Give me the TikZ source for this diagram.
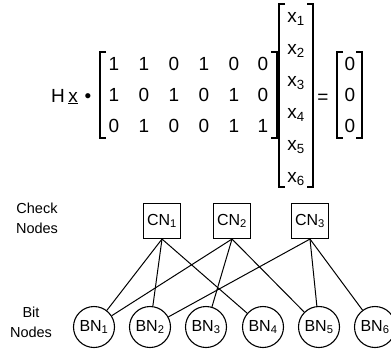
\documentclass[tikz,border=0pt]{standalone}
\usepackage{fontspec}
\setmainfont{Liberation Sans}
\begin{document}
\begin{tikzpicture}[x=1pt,y=-1pt,
  big/.style={font=\fontsize{19}{21}\selectfont, inner sep=0pt, anchor=base},
  lbl/.style={font=\fontsize{14.5}{16}\selectfont, inner sep=0pt, anchor=base},
  brk/.style={line width=1.1pt},
  cnbox/.style={draw, line width=1.1pt, minimum width=37pt, minimum height=35pt, inner sep=0pt, font=\fontsize{16}{18}\selectfont},
  bncirc/.style={draw, circle, line width=1.1pt, minimum size=41pt, inner sep=0pt, font=\fontsize{16}{18}\selectfont},
  edge/.style={line width=1pt}]
\useasboundingbox (0,0) rectangle (391,349);
\clip (0,0) rectangle (391,349);
% left-hand side
\node[big] (H) at (58,102) {H};
\node[big] (xu) at (73,102) {\underline{x}};
\node[big] (dot) at (88,102) {\textbullet};
% matrix H
\node[big] (m11) at (114,70) {1};
\node[big] (m12) at (144,70) {1};
\node[big] (m13) at (174,70) {0};
\node[big] (m14) at (204,70) {1};
\node[big] (m15) at (234,70) {0};
\node[big] (m16) at (263,70) {0};
\node[big] (m21) at (114,101) {1};
\node[big] (m22) at (144,101) {0};
\node[big] (m23) at (174,101) {1};
\node[big] (m24) at (204,101) {0};
\node[big] (m25) at (234,101) {1};
\node[big] (m26) at (263,101) {0};
\node[big] (m31) at (114,132) {0};
\node[big] (m32) at (144,132) {1};
\node[big] (m33) at (174,132) {0};
\node[big] (m34) at (204,132) {0};
\node[big] (m35) at (234,132) {1};
\node[big] (m36) at (263,132) {1};
\draw[brk] (106,52) -- (100,52) -- (100,138) -- (106,138);
\draw[brk] (271,52) -- (277,52) -- (277,138) -- (271,138);
% vector x
\node[big] (x1) at (296,22) {x\textsubscript{1}};
\node[big] (x2) at (296,54) {x\textsubscript{2}};
\node[big] (x3) at (296,86) {x\textsubscript{3}};
\node[big] (x4) at (296,118) {x\textsubscript{4}};
\node[big] (x5) at (296,150) {x\textsubscript{5}};
\node[big] (x6) at (296,182) {x\textsubscript{6}};
\draw[brk] (285,4) -- (279,4) -- (279,187) -- (285,187);
\draw[brk] (307,4) -- (313,4) -- (313,187) -- (307,187);
% equals and zero vector
\node[big] (eq) at (323,103) {=};
\node[big] (z1) at (350,70) {0};
\node[big] (z2) at (350,101) {0};
\node[big] (z3) at (350,132) {0};
\draw[brk] (343,52) -- (337,52) -- (337,138) -- (343,138);
\draw[brk] (356,52) -- (362,52) -- (362,138) -- (356,138);
% labels
\node[lbl] (chk1) at (37,213) {Check};
\node[lbl] (chk2) at (37,233) {Nodes};
\node[lbl] (bit1) at (31,317) {Bit};
\node[lbl] (bit2) at (31,337) {Nodes};
% check nodes
\node[cnbox] (cn1) at (162,221) {CN\textsubscript{1}};
\node[cnbox] (cn2) at (232,221) {CN\textsubscript{2}};
\node[cnbox] (cn3) at (310,221) {CN\textsubscript{3}};
% bit nodes
\node[bncirc] (bn1) at (94,327) {BN\textsubscript{1}};
\node[bncirc] (bn2) at (150,327) {BN\textsubscript{2}};
\node[bncirc] (bn3) at (206,327) {BN\textsubscript{3}};
\node[bncirc] (bn4) at (263,327) {BN\textsubscript{4}};
\node[bncirc] (bn5) at (319,327) {BN\textsubscript{5}};
\node[bncirc] (bn6) at (375,327) {BN\textsubscript{6}};
% edges
\draw[edge] (cn1.south) -- (bn1);
\draw[edge] (cn1.south) -- (bn2);
\draw[edge] (cn1.south) -- (bn4);
\draw[edge] (cn2.south) -- (bn1);
\draw[edge] (cn2.south) -- (bn3);
\draw[edge] (cn2.south) -- (bn5);
\draw[edge] (cn3.south) -- (bn2);
\draw[edge] (cn3.south) -- (bn5);
\draw[edge] (cn3.south) -- (bn6);
\end{tikzpicture}
\end{document}
